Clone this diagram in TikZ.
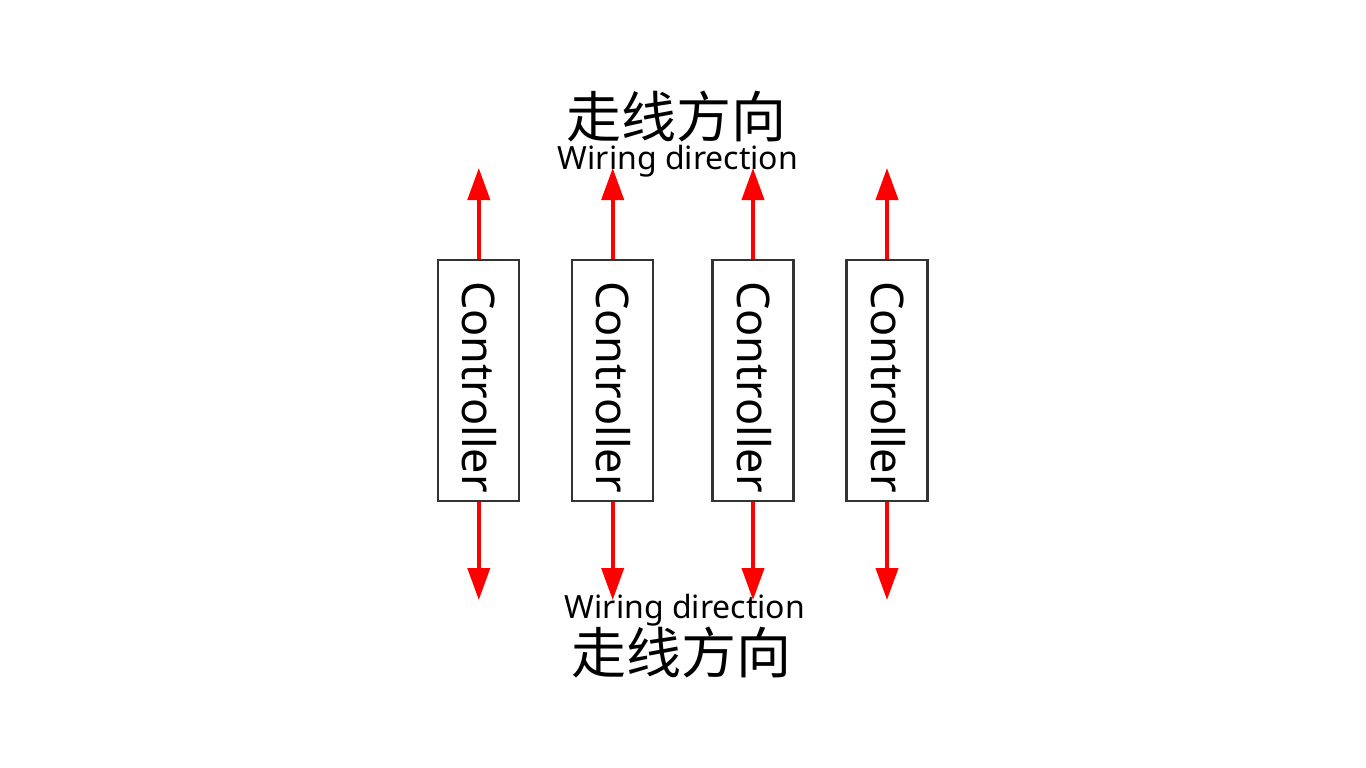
\documentclass[tikz,border=0pt]{standalone}
\usepackage{fontspec}
\setmainfont{Noto Sans}
\newfontfamily\cjk{Noto Sans CJK SC}
\usetikzlibrary{arrows.meta}
\begin{document}
\begin{tikzpicture}[x=1pt,y=-1pt,
  ctrl/.style={draw=black!80, line width=2.2pt, minimum width=81pt, minimum height=240.5pt, inner sep=0pt},
  ctrltext/.style={rotate=-90, inner sep=0pt, font=\fontsize{45}{45}\selectfont},
  arr/.style={draw=red, line width=4pt, -{Triangle[length=32pt,width=22pt]}},
  entext/.style={anchor=base, inner sep=0pt, font=\fontsize{32}{32}\selectfont},
  cntext/.style={anchor=base, inner sep=0pt, font=\cjk\fontsize{55}{55}\selectfont}]
\path[fill=white,use as bounding box] (0,0) rectangle (1366,768);

\node[cntext] (cntop) at (676.5,137) {走线方向};
\node[entext] (entop) at (678,169.3) {Wiring direction};

\foreach \i/\x in {1/478.8, 2/612.7, 3/753, 4/887}{
  \node[ctrl] (c\i) at (\x,380.4) {};
  \node[ctrltext] (t\i) at (\x+1,387) {Controller};
  \coordinate (up\i) at (\x,168);
  \coordinate (dn\i) at (\x,600);
  \draw[arr] (c\i.north) -- (up\i);
  \draw[arr] (c\i.south) -- (dn\i);
}

\node[entext] (enbot) at (685,618.5) {Wiring direction};
\node[cntext] (cnbot) at (681,673) {走线方向};
\end{tikzpicture}
\end{document}
